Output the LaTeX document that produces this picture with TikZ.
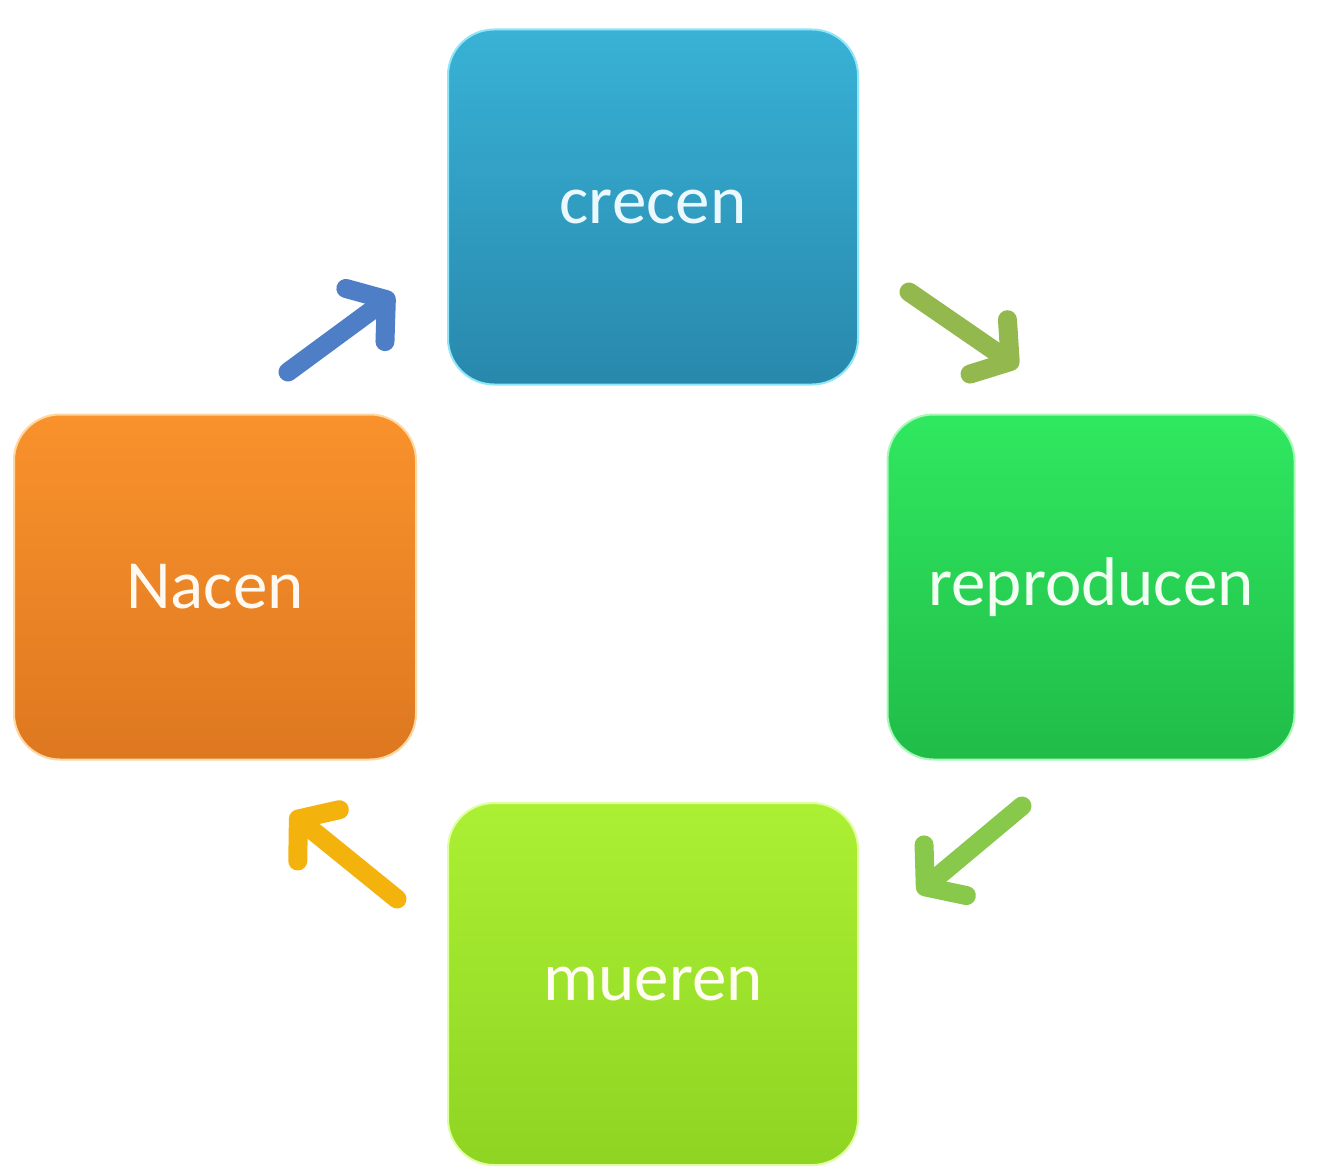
\documentclass[tikz,border=0pt]{standalone}
\usepackage{fontspec}
\setmainfont{Carlito}
\usetikzlibrary{arrows.meta,shadows}
\definecolor{cTop}{HTML}{38B2D6}
\definecolor{cBot}{HTML}{2888AC}
\definecolor{cRim}{HTML}{8FE6F8}
\definecolor{nTop}{HTML}{F9922C}
\definecolor{nBot}{HTML}{DE7820}
\definecolor{nRim}{HTML}{FFD7A0}
\definecolor{rTop}{HTML}{30E860}
\definecolor{rBot}{HTML}{20BC48}
\definecolor{rRim}{HTML}{A8F8B8}
\definecolor{mTop}{HTML}{ACF034}
\definecolor{mBot}{HTML}{8ED422}
\definecolor{mRim}{HTML}{E0FFA0}
\definecolor{aBlue}{HTML}{4D7EC6}
\definecolor{aOlive}{HTML}{92B84E}
\definecolor{aGreen}{HTML}{88C84A}
\definecolor{aGold}{HTML}{F4B20C}
\tikzset{
  stage/.style={rounded corners=46pt, minimum width=#1, font=\fontsize{69}{80}\selectfont,
    line width=2pt, inner sep=0pt},
  cyc/.style={line width=19pt, line cap=round,
    -{Straight Barb[length=26pt,width=66pt,round]}}
}
\begin{document}
\begin{tikzpicture}[x=1pt,y=-1pt]
\useasboundingbox[fill=white] (0,0) rectangle (1333,1174);
\node[stage=410pt, minimum height=355pt, top color=cTop, bottom color=cBot, draw=cRim, text=cyan!8] (crecen) at (653,207) {crecen};
\node[stage=402pt, minimum height=345pt, top color=nTop, bottom color=nBot, draw=nRim, text=orange!5] (nacen) at (215,587) {Nacen};
\node[stage=407pt, minimum height=345pt, top color=rTop, bottom color=rBot, draw=rRim, text=green!5] (repro) at (1091,587) {reproducen};
\node[stage=410pt, minimum height=362pt, top color=mTop, bottom color=mBot, draw=mRim, text=yellow!6] (mueren) at (653,984) {mueren};
\coordinate (a1s) at (288,372); \coordinate (a1e) at (394,294);
\coordinate (a2s) at (909,292); \coordinate (a2e) at (1018,367);
\coordinate (a3s) at (1022,806); \coordinate (a3e) at (918,893);
\coordinate (a4s) at (397,899); \coordinate (a4e) at (291,813);
\draw[cyc, draw=aBlue] (a1s) -- (a1e);
\draw[cyc, draw=aOlive] (a2s) -- (a2e);
\draw[cyc, draw=aGreen] (a3s) -- (a3e);
\draw[cyc, draw=aGold] (a4s) -- (a4e);
\end{tikzpicture}
\end{document}
